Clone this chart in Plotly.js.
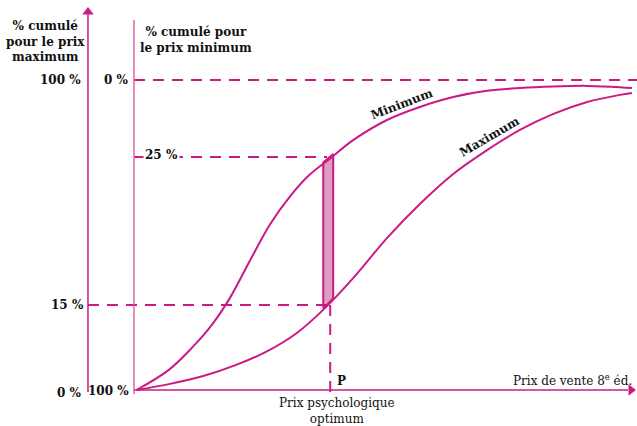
<!DOCTYPE html>
<html>
<head>
<meta charset="utf-8">
<script src="https://cdn.plot.ly/plotly-3.0.1.min.js"></script>
<style>html,body{margin:0;padding:0;background:#fff;}#chart{width:637px;height:426px;}</style>
</head>
<body>
<div id="chart"></div>
<script>
// Price axis (0 = origin, 100 = end of axis) and cumulative % (schematic scale)
const minPrice = [0.5, 7.0, 11.8, 15.9, 19.3, 23.3, 27.3, 31.3, 35.3, 39.4, 44.0, 50.8, 57.4, 64.1, 70.9, 77.5, 84.1, 91.0, 97.6, 100];
const minCum   = [0, 6.5, 13.9, 21.6, 29.8, 41.8, 53.4, 62.4, 69.5, 74.7, 80.6, 87.1, 91.3, 94.5, 96.5, 97.4, 97.9, 98.1, 97.7, 97.4];
const maxPrice = [0.5, 7.0, 13.9, 20.5, 26.5, 32.7, 38.4, 44.0, 50.8, 57.4, 64.1, 70.9, 77.5, 84.1, 91.0, 97.6, 100];
const maxCum   = [0, 1.9, 4.5, 8.1, 12.3, 18.4, 26.5, 36.1, 49.0, 60.0, 69.7, 77.4, 83.9, 89.0, 92.9, 95.2, 95.8];
// shaded band around the optimum price
const bandPrice = [38.0, 40.0];
const bandTop   = [73.4, 76.1];
const bandBot   = [26.3, 29.5];
// reference levels
const levelTop = 100;   // 100 % (max) / 0 % (min)
const level25  = 75.2;  // 25 %
const level15  = 27.4;  // 15 %
const priceP   = 39.4;  // P
const leftAxisX = -9.24;
const labelsTop = ["100 %", "0 %"];
const labelsBottom = ["0 %", "100 %"];
const label25 = "25 %";
const label15 = "15 %";

const MAG = '#cc1a85';
const FILL = '#dc9cc3';
const FONTB = {family: 'DejaVu Serif, Liberation Serif, serif', size: 12, color: '#111'};
const FONT = {family: 'DejaVu Serif, Liberation Serif, serif', size: 12, color: '#111'};
const pxX = p => (p - 134) / 4.98;
const pxY = p => (390 - p) / 3.1;

const traces = [
  {x: [bandPrice[0], bandPrice[0], bandPrice[1], bandPrice[1], bandPrice[0]],
   y: [bandBot[0], bandTop[0], bandTop[1], bandBot[1], bandBot[0]],
   mode: 'lines', fill: 'toself', fillcolor: FILL, line: {color: MAG, width: 2}, hoverinfo: 'skip'},
  {x: minPrice, y: minCum, mode: 'lines', line: {color: MAG, width: 2, shape: 'spline', smoothing: 1}, name: 'Minimum'},
  {x: maxPrice, y: maxCum, mode: 'lines', line: {color: MAG, width: 2, shape: 'spline', smoothing: 1}, name: 'Maximum'},
  // arrowheads of the axes
  {x: [leftAxisX], y: [pxY(12)], mode: 'markers', marker: {symbol: 'triangle-up', size: 10, color: MAG}, hoverinfo: 'skip'},
  {x: [pxX(631)], y: [0], mode: 'markers', marker: {symbol: 'triangle-right', size: 10, color: MAG}, hoverinfo: 'skip'}
];

const dash = '11px,8px';
const shapes = [
  {type: 'line', x0: 0, x1: pxX(637), y0: levelTop, y1: levelTop, line: {color: MAG, width: 2, dash: dash}},
  {type: 'line', x0: 0, x1: pxX(327), y0: level25, y1: level25, line: {color: MAG, width: 2, dash: dash}},
  {type: 'line', x0: leftAxisX, x1: pxX(327), y0: level15, y1: level15, line: {color: MAG, width: 2, dash: dash}},
  {type: 'line', x0: priceP, x1: priceP, y0: level15, y1: pxY(394), line: {color: MAG, width: 2, dash: dash}},
  {type: 'line', x0: 0, x1: 0, y0: pxY(394), y1: pxY(20), line: {color: '#d94f9f', width: 1.3}},
  {type: 'line', x0: leftAxisX, x1: leftAxisX, y0: pxY(392), y1: pxY(14), line: {color: MAG, width: 1.5}},
  {type: 'line', x0: 0, x1: pxX(628), y0: 0, y1: 0, line: {color: MAG, width: 1.5}}
];

function txt(x, y, text, xanchor, extra) {
  return Object.assign({x: x, y: y, xref: 'x', yref: 'y', text: text, showarrow: false,
    xanchor: xanchor || 'center', yanchor: 'middle', font: FONTB}, extra || {});
}

const annotations = [
  txt(pxX(45), pxY(41), '<b>% cumulé<br>pour le prix<br>maximum</b>', 'center'),
  txt(pxX(196), pxY(40), '<b>% cumulé pour<br>le prix minimum</b>', 'center'),
  txt(pxX(83), levelTop, '<b>' + labelsTop[0] + '</b>', 'right'),
  txt(pxX(131), levelTop, '<b>' + labelsTop[1] + '</b>', 'right'),
  txt(pxX(180), level25 + 0.5, '<b>' + label25 + '</b>', 'right', {bgcolor: '#fff'}),
  txt(pxX(86), level15, '<b>' + label15 + '</b>', 'right'),
  txt(pxX(84), pxY(393), '<b>' + labelsBottom[0] + '</b>', 'right'),
  txt(pxX(131), pxY(391), '<b>' + labelsBottom[1] + '</b>', 'right'),
  txt(pxX(335), pxY(381), '<b>P</b>', 'left'),
  txt(pxX(634), pxY(380), 'Prix de vente 8<sup>e</sup> éd.', 'right', {font: FONT}),
  txt(pxX(337), pxY(411), 'Prix psychologique<br>optimum', 'center', {font: FONT}),
  txt(pxX(402), pxY(104), '<b>Minimum</b>', 'center', {textangle: -21}),
  txt(pxX(489), pxY(137), '<b>Maximum</b>', 'center', {textangle: -30})
];

const layout = {
  width: 637, height: 426,
  margin: {l: 0, r: 0, t: 0, b: 0},
  paper_bgcolor: '#fff', plot_bgcolor: '#fff',
  showlegend: false,
  xaxis: {range: [pxX(0), pxX(637)], visible: false, fixedrange: true},
  yaxis: {range: [pxY(426), pxY(0)], visible: false, fixedrange: true},
  shapes: shapes,
  annotations: annotations
};
Plotly.newPlot('chart', traces, layout, {displayModeBar: false, staticPlot: true});
</script>
</body>
</html>
